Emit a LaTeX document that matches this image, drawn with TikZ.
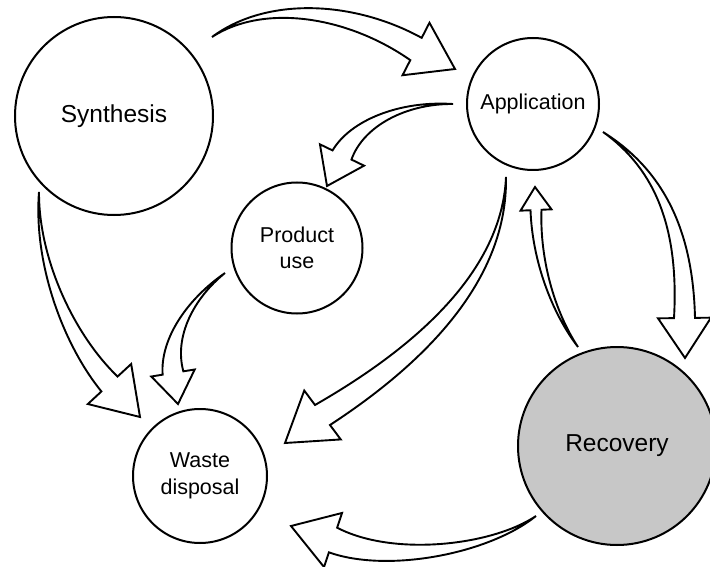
\documentclass[tikz,border=0pt]{standalone}
\usepackage{fontspec}
\setmainfont{Liberation Sans}
\usetikzlibrary{calc}

\definecolor{recoverygray}{RGB}{199,199,199}

% Hollow curved arrow with a pointed tail that widens linearly to the head.
% #1 tail, #2 and #3 centre-line controls, #4 head base, #5 tip,
% #6 half width of the body at the head, #7 half width of the head.
\newcommand\hollowarrow[7]{%
  \coordinate (ha-b) at (#4);
  \coordinate (ha-t) at (#5);
  \coordinate (ha-bl) at ($(ha-b)!#6!90:(ha-t)$);
  \coordinate (ha-br) at ($(ha-b)!#6!-90:(ha-t)$);
  \coordinate (ha-hl) at ($(ha-b)!#7!90:(ha-t)$);
  \coordinate (ha-hr) at ($(ha-b)!#7!-90:(ha-t)$);
  \draw[arrowline] (#1)
    .. controls ($(#2)+0.333*(ha-bl)-0.333*(ha-b)$)
            and ($(#3)+0.667*(ha-bl)-0.667*(ha-b)$) .. (ha-bl)
    -- (ha-hl) -- (ha-t) -- (ha-hr) -- (ha-br)
    .. controls ($(#3)+0.667*(ha-br)-0.667*(ha-b)$)
            and ($(#2)+0.333*(ha-br)-0.333*(ha-b)$) .. cycle;
}

\begin{document}
\begin{tikzpicture}[x=1pt,y=-1pt,
    stage/.style={circle,draw=black,line width=2pt,inner sep=0pt,
      align=center,text=black},
    bigtext/.style={font=\fontsize{24.5}{29}\selectfont},
    smalltext/.style={font=\fontsize{21.5}{26.5}\selectfont},
    arrowline/.style={draw=black,fill=white,line width=1.9pt,line join=miter}]

  \useasboundingbox (0,0) rectangle (710,567);

  % stages of the cycle
  \node[stage,bigtext,minimum size=198pt] (syn) at (114,116) {Synthesis};
  \node[stage,smalltext,minimum size=132pt] (app) at (533,104) {Application};
  \node[stage,smalltext,minimum size=131pt] (use) at (297,248) {Product\\use};
  \node[stage,smalltext,minimum size=134pt] (waste) at (200,476) {Waste\\disposal};
  \node[stage,bigtext,minimum size=198pt,fill=recoverygray] (rec) at (617,446) {Recovery};

  % arrow ends
  \coordinate (syn-to-app) at (212,37);
  \coordinate (app-from-syn) at (455,69);
  \coordinate (app-to-use) at (453,104);
  \coordinate (use-from-app) at (327,186);
  \coordinate (syn-to-waste) at (39,192);
  \coordinate (waste-from-syn) at (140,417);
  \coordinate (use-to-waste) at (225,273);
  \coordinate (waste-from-use) at (178,404);
  \coordinate (app-to-waste) at (506,177);
  \coordinate (waste-from-app) at (285,443);
  \coordinate (app-to-rec) at (603,132);
  \coordinate (rec-from-app) at (685,358);
  \coordinate (rec-to-app) at (578,347);
  \coordinate (app-from-rec) at (535,187);
  \coordinate (rec-to-waste) at (536,516);
  \coordinate (waste-from-rec) at (291,526);

  % flows between the stages
  \hollowarrow{syn-to-app}{265,0}{350,8}{416,49}{app-from-syn}{12.5pt}{29.5pt}
  \hollowarrow{app-to-use}{403,102}{357,123}{342,155}{use-from-app}{10.5pt}{24.5pt}
  \hollowarrow{syn-to-waste}{36,262}{69,340}{109.5,384}{waste-from-syn}{11pt}{29.5pt}
  \hollowarrow{use-to-waste}{190,299}{167,338}{173,373}{waste-from-use}{10.5pt}{22pt}
  \hollowarrow{app-to-waste}{505,260}{445,340}{322.5,415}{waste-from-app}{12.5pt}{30.5pt}
  \hollowarrow{app-to-rec}{660,170}{686,230}{684.5,318}{rec-from-app}{10.5pt}{26.5pt}
  \hollowarrow{rec-to-app}{553,312}{536,260}{536,210}{app-from-rec}{5.5pt}{15.5pt}
  \hollowarrow{rec-to-waste}{490,550}{390,565}{333,540}{waste-from-rec}{13pt}{28.5pt}
\end{tikzpicture}
\end{document}
